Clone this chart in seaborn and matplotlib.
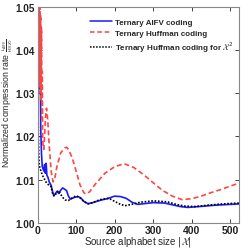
import numpy as np
import pandas as pd
import matplotlib
matplotlib.use("Agg")
import matplotlib.pyplot as plt
import seaborn as sns

# Ternary Huffman coding (red dashed)
huff_x = [2, 3, 4, 5, 6, 7, 8, 9, 10, 11, 12, 13, 14, 16, 18, 20, 23, 26, 30, 35, 40, 45, 50,
          60, 70, 75, 80, 90, 100, 110, 120, 125, 135, 150, 175, 200, 225, 250, 275, 300,
          325, 350, 375, 400, 425, 450, 475, 500, 523]
huff_y = [1.060, 1.035, 1.055, 1.032, 1.050, 1.030, 1.048, 1.028, 1.045, 1.024, 1.035, 1.020,
          1.018, 1.017, 1.020, 1.024, 1.0265, 1.024, 1.018, 1.012, 1.0095, 1.0105, 1.013,
          1.0162, 1.0173, 1.0175, 1.017, 1.015, 1.012, 1.0088, 1.007, 1.0067, 1.0072, 1.009,
          1.0115, 1.013, 1.0137, 1.0128, 1.0112, 1.0093, 1.0075, 1.0062, 1.0054, 1.0056,
          1.0062, 1.007, 1.0077, 1.0085, 1.0092]

# Ternary AIFV coding (blue solid)
aifv_x = [2, 3, 4, 5, 6, 7, 8, 9, 10, 12, 14, 16, 18, 20, 22, 24, 27, 30, 35, 40, 42, 46, 50,
          55, 60, 65, 70, 75, 80, 85, 95, 105, 112, 120, 130, 140, 150, 165, 180, 200, 215,
          230, 245, 260, 280, 300, 330, 350, 370, 390, 420, 460, 500, 523]
aifv_y = [1.050, 1.040, 1.036, 1.045, 1.031, 1.033, 1.022, 1.019, 1.016, 1.013, 1.0125, 1.012,
          1.0135, 1.0115, 1.0138, 1.011, 1.0105, 1.0095, 1.0087, 1.0068, 1.0063, 1.0068,
          1.0073, 1.0068, 1.0076, 1.0081, 1.0078, 1.0075, 1.0062, 1.0055, 1.0059, 1.0061,
          1.0058, 1.005, 1.0045, 1.0046, 1.0049, 1.0053, 1.0056, 1.0062, 1.0061, 1.0057,
          1.0048, 1.0043, 1.0045, 1.0047, 1.0046, 1.0042, 1.0038, 1.0036, 1.0038, 1.0041,
          1.0043, 1.0044]

# Ternary Huffman coding for X^2 (black dotted)
huff2_x = [1, 2, 3, 4, 6, 9, 12, 16, 20, 25, 30, 35, 40, 44, 48, 54, 60, 66, 72, 80, 90, 100,
           110, 120, 131, 145, 162, 185, 200, 215, 227, 245, 266, 300, 336, 360, 383, 410,
           440, 480, 523]
huff2_y = [1.0262, 1.020, 1.016, 1.0135, 1.0125, 1.012, 1.011, 1.0105, 1.0096, 1.0092, 1.0086,
           1.0084, 1.0064, 1.0062, 1.0068, 1.0075, 1.0066, 1.0058, 1.0053, 1.0052, 1.0058,
           1.0063, 1.0058, 1.005, 1.0044, 1.0048, 1.0054, 1.0057, 1.005, 1.0043, 1.004,
           1.0043, 1.0048, 1.0051, 1.0049, 1.0043, 1.0039, 1.0038, 1.0041, 1.0044, 1.0046]

labels = ["Ternary AIFV coding", "Ternary Huffman coding",
          r"Ternary Huffman coding for $\mathcal{X}^2$"]

x_ticks = [0, 100, 200, 300, 400, 500]
y_ticks = [1.00, 1.01, 1.02, 1.03, 1.04, 1.05]

df = pd.concat([
    pd.DataFrame({"x": aifv_x, "y": aifv_y, "series": labels[0]}),
    pd.DataFrame({"x": huff_x, "y": huff_y, "series": labels[1]}),
    pd.DataFrame({"x": huff2_x, "y": huff2_y, "series": labels[2]}),
])

sns.set_style("ticks")
plt.rcParams["font.family"] = ["Liberation Sans", "DejaVu Sans"]
plt.rcParams["mathtext.fontset"] = "dejavusans"

fig = plt.figure(figsize=(2.51, 2.51), dpi=100)
ax = fig.add_axes([0.150, 0.1076, 0.802, 0.8624])

palette = {labels[0]: "#1a1aff", labels[1]: "#ff4444", labels[2]: "#000000"}
styles = {labels[0]: "", labels[1]: (3, 1.8), labels[2]: (1, 1)}
sns.lineplot(data=df, x="x", y="y", hue="series", style="series", palette=palette,
             dashes=styles, ax=ax, linewidth=1.2, sort=False, estimator=None, legend=True)
for ln in ax.get_lines():
    if ln.get_label() == labels[2]:
        ln.set_linewidth(1.6)

ax.set_xlim(0, 523)
ax.set_ylim(1.0, 1.05)
ax.set_xticks(x_ticks)
ax.set_yticks(y_ticks)
ax.set_xticklabels([str(t) for t in x_ticks], fontsize=7.5, fontweight="bold")
ax.set_yticklabels([f"{t:.2f}" for t in y_ticks], fontsize=7.2, fontweight="bold")
ax.tick_params(direction="in", top=True, right=True, length=3, width=0.6, colors="#222222")
ax.tick_params(axis="x", pad=1.5)
ax.tick_params(axis="y", pad=2)
for s in ax.spines.values():
    s.set_color("#888888")
    s.set_linewidth(0.8)

ax.set_xlabel(r"Source alphabet size $|\mathcal{X}|$", fontsize=7)
ax.xaxis.set_label_coords(0.5, -0.052)
ax.set_ylabel(r"Normalized compression rate $\genfrac{}{}{0.3}{2}{L_{AIFV}}{H_3(X)}$", fontsize=6.3)
ax.yaxis.set_label_coords(-0.112, 0.56)

leg = ax.legend(loc="upper right", bbox_to_anchor=(1.0, 0.97), frameon=False,
                prop={"size": 5.8, "weight": "bold"}, handlelength=2.7,
                handletextpad=0.4, labelspacing=0.35, borderaxespad=0.3)
for h in leg.get_lines():
    h.set_linewidth(1.1)

fig.savefig("out.png", dpi=100)
